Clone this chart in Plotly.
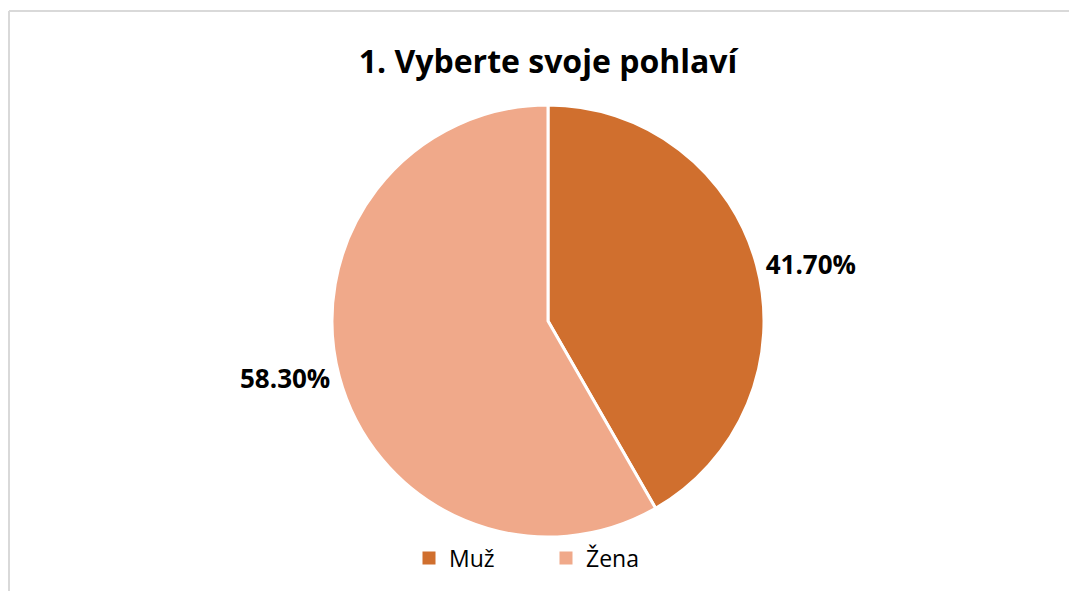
import plotly.graph_objects as go

categories = ["Muž", "Žena"]
values = [41.70, 58.30]
colors = ["#D06F2E", "#F0A98A"]
title_text = "1. Vyberte svoje pohlaví"

W, H = 1061, 583
FONT = "'Open Sans', Lato, sans-serif"
OFF = 8  # page body margin

def fy(py):
    return 1 - (py - OFF) / H

def fx(px):
    return (px - OFF) / W

fig = go.Figure()
fig.add_trace(go.Pie(
    labels=categories,
    values=values,
    sort=False,
    direction="clockwise",
    rotation=0,
    marker=dict(colors=colors, line=dict(color="white", width=3)),
    textposition="outside",
    texttemplate="%{percent:.2%}",
    textfont=dict(family=FONT, size=26, color="#000000", weight="bold"),
    hoverinfo="label+percent",
    domain=dict(x=[fx(332), fx(764)], y=[fy(537), fy(105)]),
    automargin=False,
    showlegend=False,
))

# legend entries (square swatches)
for name, col in zip(categories, colors):
    fig.add_trace(go.Scatter(
        x=[None], y=[None], mode="markers", name=name,
        marker=dict(symbol="square", size=13, color=col),
        showlegend=True, hoverinfo="skip",
    ))

border = dict(color="#D9D9D9", width=2)
fig.update_layout(
    width=W, height=H,
    margin=dict(l=0, r=0, t=0, b=0),
    paper_bgcolor="white",
    plot_bgcolor="white",
    font=dict(family=FONT, color="#000000"),
    xaxis=dict(visible=False),
    yaxis=dict(visible=False),
    title=dict(text="<b>" + title_text + "</b>", x=fx(548), xanchor="center",
               y=fy(62), yanchor="middle",
               font=dict(family=FONT, size=32, color="#000000")),
    showlegend=True,
    legend=dict(orientation="h", x=fx(546), xanchor="center",
                y=fy(558), yanchor="middle",
                font=dict(family=FONT, size=23, color="#000000"),
                entrywidth=92, itemwidth=30, itemsizing="trace",
                traceorder="normal"),
    shapes=[
        dict(type="line", xref="paper", yref="paper",
             x0=fx(9), x1=1.0, y0=fy(11), y1=fy(11), line=border, layer="below"),
        dict(type="line", xref="paper", yref="paper",
             x0=fx(9), x1=fx(9), y0=fy(11), y1=0.0, line=border, layer="below"),
    ],
)

fig.write_html("out.html")
